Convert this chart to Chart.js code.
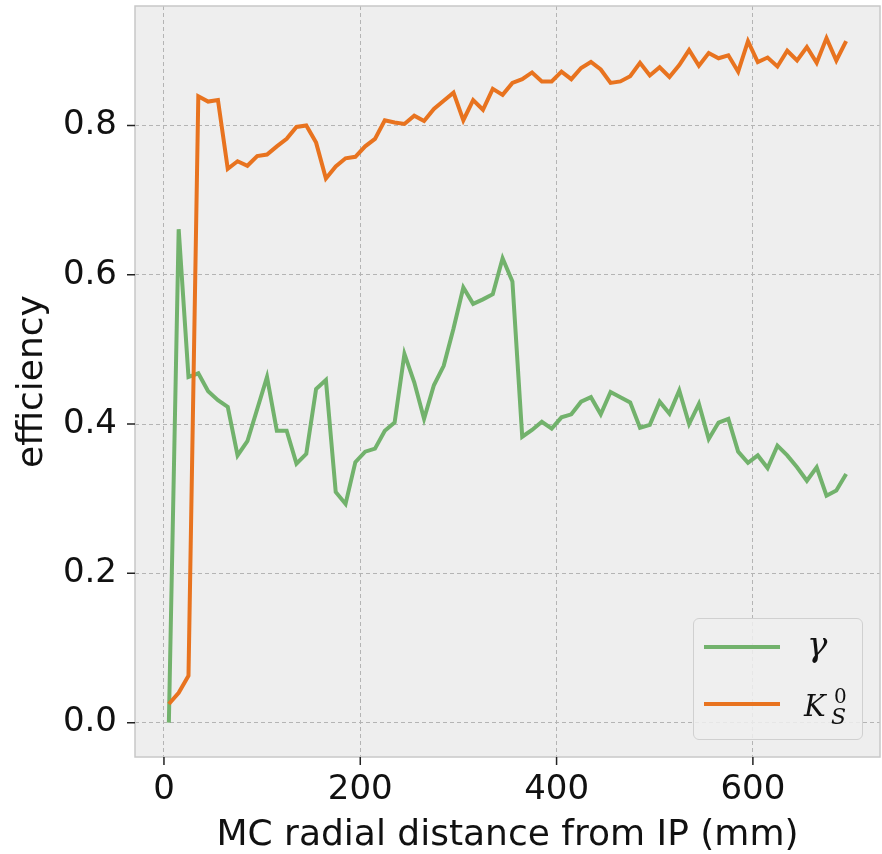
<!DOCTYPE html>
<html>
<head>
<meta charset="utf-8">
<script src="https://cdn.jsdelivr.net/npm/chart.js@4/dist/chart.umd.min.js"></script>
<style>
    html, body { margin: 0; padding: 0; background: #ffffff; }
    #wrap { position: relative; width: 882px; height: 854px; }
    #legend {
        position: absolute; left: 693px; top: 618px; width: 170px; height: 122px;
        border: 1px solid #d0d0d0; border-radius: 6px; background: rgba(238,238,238,0.85);
        box-sizing: border-box;
    }
    .swatch { position: absolute; left: 10px; width: 76px; height: 4px; }
    .lab { position: absolute; font-family: "DejaVu Serif", serif; font-style: italic; line-height: 1; color: #111; white-space: nowrap; }
</style>
</head>
<body>
<div id="wrap">
    <canvas id="grafico" width="882" height="854"></canvas>
    <div id="legend">
        <div class="swatch" style="top: 26px; background: #72b26c;"></div>
        <div class="lab" style="left: 113px; top: 8px; font-size: 34px;">γ</div>
        <div class="swatch" style="top: 83px; background: #e8731f;"></div>
        <div class="lab" style="left: 110px; top: 73px; font-size: 29px;">K</div>
        <div class="lab" style="left: 140px; top: 67px; font-size: 20px; font-style: normal;">0</div>
        <div class="lab" style="left: 137px; top: 87px; font-size: 22px;">S</div>
    </div>
</div>
<script>
// =======================
// DADOS
// =======================

const distancia = [];
for (let d = 5; d < 700; d += 10) distancia.push(d);

// gamma
const gamma = [
    0.000, 0.661, 0.463, 0.468, 0.444, 0.432, 0.423, 0.358, 0.377, 0.420,
    0.463, 0.391, 0.391, 0.347, 0.360, 0.447, 0.459, 0.309, 0.293, 0.349,
    0.363, 0.367, 0.391, 0.402, 0.494, 0.456, 0.407, 0.452, 0.478, 0.528,
    0.583, 0.561, 0.567, 0.574, 0.622, 0.591, 0.383, 0.392, 0.403, 0.394,
    0.409, 0.413, 0.430, 0.436, 0.413, 0.443, 0.436, 0.429, 0.395, 0.399,
    0.430, 0.414, 0.445, 0.400, 0.427, 0.380, 0.402, 0.407, 0.363, 0.348,
    0.358, 0.341, 0.371, 0.358, 0.342, 0.324, 0.342, 0.304, 0.311, 0.333
];

// K0 short
const kshort = [
    0.025, 0.040, 0.063, 0.839, 0.832, 0.834, 0.742, 0.752, 0.746, 0.759,
    0.761, 0.772, 0.782, 0.798, 0.800, 0.777, 0.729, 0.745, 0.756, 0.758,
    0.772, 0.782, 0.807, 0.804, 0.802, 0.813, 0.806, 0.822, 0.833, 0.844,
    0.807, 0.834, 0.821, 0.849, 0.841, 0.857, 0.862, 0.871, 0.859, 0.859,
    0.872, 0.862, 0.877, 0.885, 0.875, 0.857, 0.859, 0.866, 0.884, 0.867,
    0.878, 0.865, 0.881, 0.901, 0.880, 0.897, 0.890, 0.894, 0.872, 0.913,
    0.885, 0.891, 0.879, 0.900, 0.887, 0.905, 0.884, 0.917, 0.887, 0.913
];

const xTicks = [0, 200, 400, 600];
const yTicks = [0.0, 0.2, 0.4, 0.6, 0.8];

// =======================
// PLUGINS
// =======================

const fundo = {
    id: "fundo",
    beforeDraw(chart) {
        const { ctx, chartArea: a } = chart;
        ctx.save();
        ctx.fillStyle = "#eeeeee";
        ctx.fillRect(a.left, a.top, a.right - a.left, a.bottom - a.top);
        ctx.restore();
    },
    afterDraw(chart) {
        const { ctx, chartArea: a, scales } = chart;
        ctx.save();
        ctx.strokeStyle = "#c8c8c8";
        ctx.lineWidth = 1.5;
        ctx.strokeRect(a.left, a.top, a.right - a.left, a.bottom - a.top);
        // tick marks
        ctx.strokeStyle = "#222";
        ctx.lineWidth = 1.5;
        ctx.beginPath();
        xTicks.forEach(v => {
            const x = scales.x.getPixelForValue(v);
            ctx.moveTo(x, a.bottom);
            ctx.lineTo(x, a.bottom + 8);
        });
        yTicks.forEach(v => {
            const y = scales.y.getPixelForValue(v);
            ctx.moveTo(a.left, y);
            ctx.lineTo(a.left - 8, y);
        });
        ctx.stroke();
        ctx.restore();
    }
};

// =======================
// GRÁFICO
// =======================

const ctx = document.getElementById("grafico");

const fonte = { family: "DejaVu Sans", size: 34 };
const fonteTitulo = { family: "DejaVu Sans", size: 36, lineHeight: 1 };

const grafico = new Chart(ctx, {
    type: "line",
    data: {
        labels: distancia,
        datasets: [
            {
                label: "γ",
                data: gamma,
                borderColor: "#72b26c",
                borderWidth: 4,
                pointRadius: 0,
                tension: 0,
                order: 1
            },
            {
                label: "K_S^0",
                data: kshort,
                borderColor: "#e8731f",
                borderWidth: 4,
                pointRadius: 0,
                tension: 0,
                order: 0
            }
        ]
    },
    options: {
        responsive: false,
        animation: false,
        layout: { padding: { top: 6, right: 2, left: 0, bottom: 0 } },
        plugins: {
            legend: { display: false },
            tooltip: { enabled: false }
        },
        scales: {
            x: {
                type: "linear",
                min: -29.5,
                max: 729.5,
                afterBuildTicks: s => { s.ticks = xTicks.map(v => ({ value: v })); },
                afterFit: s => {
                    s.height = 97;
                    s.paddingLeft = 0;
                    s.paddingRight = 0;
                },
                grid: { color: "#b4b4b4", lineWidth: 1, drawTicks: false },
                border: { display: false, dash: [4, 3] },
                ticks: {
                    padding: 13,
                    color: "#111",
                    font: fonte,
                    maxRotation: 0
                },
                title: {
                    display: true,
                    text: "MC radial distance from IP (mm)",
                    color: "#111",
                    font: fonteTitulo,
                    padding: { top: 0, bottom: 0 }
                }
            },
            y: {
                min: -0.046,
                max: 0.96,
                afterBuildTicks: s => { s.ticks = yTicks.map(v => ({ value: v })); },
                afterFit: s => {
                    s.width = 135;
                    s.paddingTop = 0;
                    s.paddingBottom = 0;
                },
                grid: { color: "#b4b4b4", lineWidth: 1, drawTicks: false },
                border: { display: false, dash: [4, 3] },
                ticks: {
                    padding: 18,
                    color: "#111",
                    font: fonte,
                    callback: v => v.toFixed(1)
                },
                title: {
                    display: true,
                    text: "efficiency",
                    color: "#111",
                    font: fonteTitulo,
                    padding: { top: 15, bottom: 0 }
                }
            }
        }
    },
    plugins: [fundo]
});
</script>
</body>
</html>
